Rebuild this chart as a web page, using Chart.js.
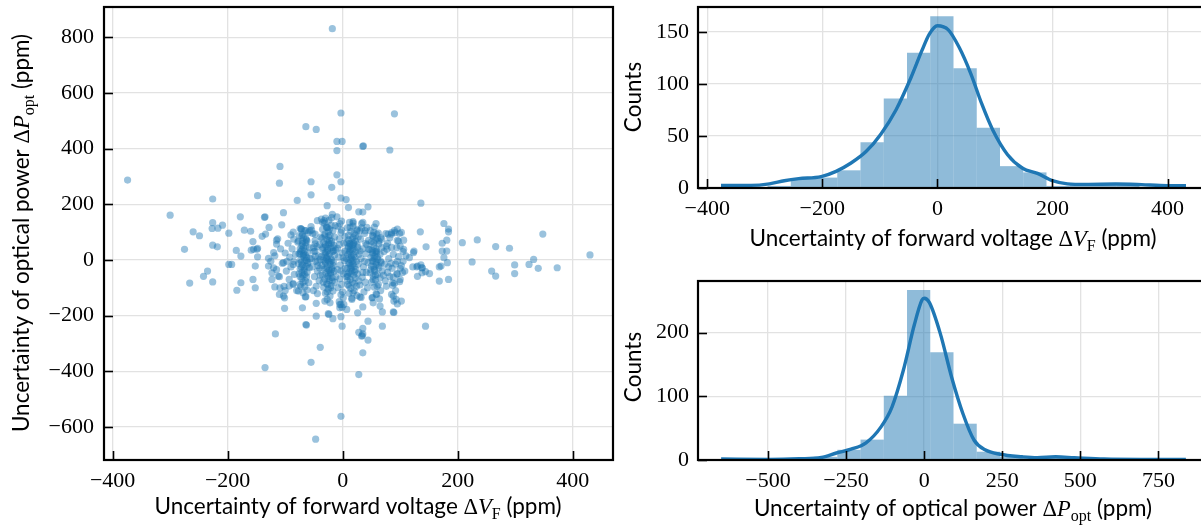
<!DOCTYPE html>
<html><head><meta charset="utf-8">
<script src="https://cdn.jsdelivr.net/npm/chart.js@4.4.1/dist/chart.umd.min.js"></script>
<style>
html,body{margin:0;padding:0;background:#fff;overflow:hidden;width:1201px;height:525px;position:relative;}
canvas{position:absolute;}
</style></head><body>
<canvas id="sc" width="625" height="525" style="left:0;top:0"></canvas>
<canvas id="h1" width="600" height="262" style="left:620px;top:0"></canvas>
<canvas id="h2" width="600" height="263" style="left:620px;top:262px"></canvas>
<script>
// ---------- DATA ----------
const scatterOuter = [[-18,831],[-3,528],[90,525],[-64,479],[-46,469],[-10,426],[-1,426],[35,408],[36,410],[82,395],[-10,393],[-109,336],[-10,306],[-374,287],[-110,276],[-55,281],[-3,281],[-19,261],[-55,234],[-148,231],[-226,219],[-79,214],[-3,222],[6,217],[136,204],[-27,195],[10,188],[44,191],[-300,161],[-178,155],[-136,153],[-135,155],[-103,170],[28,173],[35,172],[-226,134],[-209,125],[-260,101],[-249,87],[-275,38],[-266,-83],[-242,-59],[-235,-40],[-226,53],[-218,47],[-227,113],[-217,114],[-198,96],[-198,-16],[-193,-16],[-185,34],[-177,14],[-184,-109],[-177,-82],[-226,-79],[-171,107],[-160,103],[-156,66],[-155,38],[-148,42],[-152,-22],[-156,-70],[-152,-100],[-148,11],[-140,85],[-134,93],[-128,117],[-113,76],[-106,126],[-86,100],[-135,-387],[-117,-266],[-101,-174],[-93,-94],[-110,-124],[-101,-136],[-70,-172],[-64,-232],[-63,-234],[-46,-202],[-46,-156],[-44,-121],[-55,-368],[-39,-314],[-47,-644],[-3,-562],[28,-412],[35,-334],[44,-288],[35,-266],[35,-246],[28,-260],[44,-220],[69,-238],[69,-187],[88,-187],[89,-189],[102,-148],[93,-142],[144,-238],[-1,-238],[-3,-204],[-17,-211],[-24,-196],[26,-190],[35,-169],[53,-154],[-3,-160],[7,-178],[168,-76],[184,-70],[130,-59],[151,-49],[144,-42],[129,-25],[171,-22],[182,-10],[173,32],[181,32],[173,60],[181,71],[176,131],[184,111],[184,101],[208,62],[234,72],[225,-7],[266,48],[290,42],[259,-40],[266,-58],[299,-18],[299,-49],[324,-16],[332,2],[340,-30],[348,93],[373,-28],[430,18],[135,101],[145,47],[136,-18],[138,-28],[124,32],[116,8],[106,71],[95,111],[102,99],[85,93],[54,99],[58,131],[35,135],[18,138],[13,117],[30,105],[42,117],[-5,131],[-10,155],[-18,164],[-37,147],[-32,141],[-74,113],[-64,105],[-54,107],[-26,117],[-70,68]];

const scatterMid = [[-149,38],[-159,35],[-129,6],[-120,26],[-115,57],[-115,71],[-72,111],[-57,105],[-71,87],[-77,68],[-71,51],[-74,21],[-62,68],[-51,44],[-48,14],[-44,141],[-103,-10],[-120,-28],[-86,-16],[-129,-22],[-123,-46],[-123,-70],[-112,-58],[-118,-97],[-109,-100],[-103,-130],[-86,-88],[-77,-112],[-65,-133],[-19,152],[-35,135],[-28,117],[-13,123],[18,132],[33,131],[25,105],[39,105],[-2,107],[-48,93],[-31,87],[59,93],[68,75],[79,93],[91,98],[97,68],[77,38],[59,26],[45,38],[51,-4],[30,32],[19,62],[13,57],[4,32],[-48,32],[-34,44],[-25,62],[-16,32],[-39,2],[99,95],[85,98],[94,44],[106,38],[123,26],[176,8],[-25,-193],[33,-274],[34,-272],[-5,-172],[-31,-148],[-22,-154],[-5,-160],[1,-136],[16,-142],[30,-133],[51,-136],[59,-124],[65,-166],[85,-124],[89,-148],[95,-158],[87,-82],[99,-78],[87,-91],[138,-46],[122,-25],[130,-22],[138,-28],[168,-25],[92,-15],[100,-30],[95,-50],[88,-62],[104,-45]];

const scatterCore = [[-72,112],[-66,105],[-60,98],[-75,88],[-68,80],[-63,72],[-78,64],[-70,58],[-64,50],[-58,44],[-74,40],[-67,33],[-61,27],[-76,22],[-69,16],[-63,10],[-57,5],[-73,0],[-66,-4],[-60,-9],[-77,-13],[-70,-18],[-64,-23],[-58,-28],[-74,-33],[-67,-38],[-62,-44],[-76,-50],[-69,-55],[-63,-61],[-71,-68],[-65,-75],[-59,-82],[-74,-88],[-66,-96],[-62,-108],[-69,-118],[-64,-132],[-72,-8],[-68,20],[-65,62],[-71,-45],[-61,-15],[-67,8],[-73,30],
[-52,95],[-48,70],[-45,48],[-50,30],[-42,15],[-47,-5],[-53,-25],[-44,-40],[-49,-60],[-41,-75],[-46,-95],[-51,-110],[-40,55],[-55,120],[-43,-20],[-38,82],[-39,-55],[-54,5],
[-30,150],[-24,142],[-32,132],[-20,125],[-28,118],[-35,110],[-17,105],[-25,100],[-31,93],[-22,88],[-14,82],[-36,78],[-27,73],[-19,68],[-33,62],[-24,57],[-15,52],[-29,48],[-21,43],[-35,38],[-26,34],[-18,30],[-31,25],[-23,21],[-14,17],[-37,12],[-28,8],[-20,4],[-33,0],[-25,-4],[-16,-8],[-30,-12],[-22,-16],[-36,-20],[-27,-24],[-19,-28],[-32,-33],[-24,-37],[-15,-41],[-29,-46],[-21,-50],[-35,-55],[-26,-59],[-18,-64],[-31,-69],[-23,-74],[-14,-80],[-28,-86],[-20,-92],[-33,-98],[-25,-105],[-17,-112],[-30,-120],[-22,-130],[-27,-142],[-12,-60],[-12,35],[-34,-80],[-19,-2],[-26,14],[-24,-66],[-30,55],[-16,-20],
[-8,120],[-3,98],[-6,75],[2,60],[-9,42],[-1,25],[-7,10],[3,-3],[-4,-18],[-9,-35],[1,-50],[-5,-68],[-2,-88],[-8,-100],[0,-115],[-3,-125],[-6,-150],[2,-160],[-1,-170],[4,85],[-2,140],[4,-30],
[12,135],[18,122],[8,115],[25,110],[14,102],[20,95],[10,88],[27,82],[16,75],[22,68],[7,62],[19,56],[13,50],[26,45],[9,40],[17,35],[23,30],[11,25],[28,20],[15,15],[21,10],[6,5],[18,0],[24,-5],[10,-10],[27,-15],[14,-20],[20,-25],[8,-30],[23,-35],[16,-40],[11,-45],[26,-50],[19,-55],[7,-60],[22,-65],[13,-70],[28,-75],[17,-80],[9,-88],[24,-95],[14,-102],[20,-110],[11,-120],[25,-128],[16,-138],[12,60],[18,-15],[14,38],[21,-42],[10,72],[19,18],[8,-52],
[33,115],[38,95],[31,75],[42,55],[35,40],[40,22],[32,5],[44,-10],[36,-25],[41,-45],[34,-62],[39,-80],[43,-100],[37,-115],[32,-135],[45,70],[38,-5],[30,-90],
[55,118],[48,105],[62,96],[52,88],[66,80],[57,72],[50,65],[63,58],[54,50],[68,44],[47,38],[59,32],[52,26],[65,20],[56,14],[49,8],[61,2],[53,-4],[67,-10],[58,-16],[50,-22],[63,-28],[55,-34],[69,-40],[48,-46],[60,-52],[53,-58],[65,-64],[57,-72],[50,-80],[62,-88],[55,-98],[66,-110],[58,-122],[52,-135],[64,-140],[60,10],[54,-25],[58,40],
[75,95],[82,80],[90,105],[78,60],[95,70],[85,45],[100,50],[72,30],[88,20],[105,30],[80,5],[95,-5],[73,-15],[102,-20],[86,-30],[78,-45],[94,-50],[108,-40],[82,-60],[74,-75],[100,-70],[90,-85],[76,-95],[92,-110],[105,-5],[110,15],[84,-12],[97,12],[71,-55],[88,-130],
[-95,60],[-88,40],[-100,25],[-92,10],[-85,-5],[-105,-12],[-90,-25],[-98,-40],[-84,-52],[-110,-60],[-93,-70],[-86,-85],[-102,-95],[-82,20],[-108,40],[-118,15],[-125,-5],[-90,90],[-100,-110],[-80,-110],[-115,-35],[-97,-5],[-85,75]];

// extra points in the four dense vertical stripes (around -70, -25, 12, 55 ppm)
const scatterStripes = [[-68,45],[-72,-25],[-66,-52],[-70,92],[-63,-2],[-69,-80],[-65,18],[-74,-60],
[-26,40],[-22,-8],[-28,-30],[-20,60],[-24,-50],[-30,18],[-18,-75],[-25,85],[-21,-100],[-27,2],[-23,110],[-19,-35],
[12,30],[16,-5],[10,48],[14,-32],[18,80],[9,-60],[15,8],[20,-85],[12,-12],[17,52],
[54,62],[58,-8],[52,20],[56,-40],[60,78],[53,-70],[57,30],[62,-20],
[-71,35],[-67,-30],[-64,75],[-73,-95],[-29,28],[-21,-44],[-26,-88],[-17,44],[-31,-6],[-23,70],[-27,-115],
[9,18],[14,-48],[19,40],[11,-95],[22,88],[16,-25],[13,2],[8,-75],[25,55],[18,-118],
[51,35],[57,-55],[63,68],[55,5],[49,-35],[60,-95],[53,85],[66,-5],[-44,-8],[-48,58],[-40,-30],[35,-45],[40,60],[-3,-40],[-6,55],[1,8],[80,-25],[76,50]];

const scatterXTicks = [-400, -200, 0, 200, 400];
const scatterYTicks = [-600, -400, -200, 0, 200, 400, 600, 800];

const vfBinEdges = [-376, -335.6, -295.2, -254.8, -214.4, -174, -133.6, -93.2, -52.8, -12.4, 28, 68.4, 108.8, 149.2, 189.6, 230, 270.4, 310.8, 351.2, 391.6, 432];
const vfCounts   = [1, 1, 2, 9, 10, 17, 44, 86, 130, 165, 115, 58, 21, 15, 2, 4, 3, 4, 1, 1];
const vfKdeX = [-376, -324, -292, -266, -241, -202, -176, -150, -124, -98, -72, -46, -27, -14, 0, 19, 38, 58, 77, 96, 122, 148, 174, 200, 226, 258, 310, 355, 387, 432];
const vfKdeY = [2.5, 2.5, 4, 7, 9, 11, 16, 24, 35, 52, 75, 106, 132, 148, 156, 152, 135, 110, 81, 56, 32, 19, 14, 7, 4, 3.5, 3.8, 3.2, 2.5, 2.2];
const vfXTicks = [-400, -200, 0, 200, 400];
const vfYTicks = [0, 50, 100, 150];

const poBinEdges = [-650, -575.6, -501.2, -426.8, -352.4, -278, -203.6, -129.2, -54.8, 19.6, 94, 168.4, 242.8, 317.2, 391.6, 466, 540.4, 614.8, 689.2, 763.6, 838];
const poCounts   = [1, 1, 0, 3, 5, 16, 32, 101, 267, 169, 57, 13, 5, 3, 5, 3, 0, 0, 0, 1];
const poKdeX = [-650, -495, -400, -329, -281, -234, -186, -138, -103, -67, -31, -7, 0, 17, 52, 88, 124, 160, 195, 243, 314, 362, 421, 481, 576, 695, 838];
const poKdeY = [1.5, 1, 2, 4, 11, 17, 27, 52, 83, 140, 213, 251, 254, 247, 198, 130, 73, 31, 16, 9, 5, 3.6, 5, 3.6, 1.5, 1, 1];
const poXTicks = [-500, -250, 0, 250, 500, 750];
const poYTicks = [0, 100, 200];

// ---------- STYLE ----------
const SERIF = '"Liberation Serif", "DejaVu Serif", serif';
const SANS = 'Lato, "Liberation Sans", sans-serif';
const FS = 22.5;     // axis-label size
const TFS = 22;      // tick-label size
const BLUE = '#1f77b4';
const GRID = '#e2e2e2';

function fmt(v){ return v < 0 ? '\u2212' + Math.abs(v) : String(v); }

function drawMixed(ctx, parts, cx, cy, rot){
  ctx.save();
  ctx.translate(cx, cy); ctx.rotate(rot);
  const fonts = {sans: FS + 'px ' + SANS, serif: FS + 'px ' + SERIF, ital: 'italic ' + FS + 'px ' + SERIF, sub: Math.round(FS*0.72) + 'px ' + SERIF};
  let w = 0;
  const ws = parts.map(p => { ctx.font = fonts[p.f]; const m = ctx.measureText(p.t).width; w += m; return m; });
  let x = -w/2;
  ctx.fillStyle = '#000'; ctx.textBaseline = 'alphabetic'; ctx.textAlign = 'left';
  const base = FS*0.36;
  parts.forEach((p, i) => { ctx.font = fonts[p.f]; ctx.fillText(p.t, x, base + (p.f === 'sub' ? FS*0.2 : 0)); x += ws[i]; });
  ctx.restore();
}

const VF_LABEL = [{t:'Uncertainty of forward voltage ', f:'sans'}, {t:'\u0394', f:'serif'}, {t:'V', f:'ital'}, {t:'F', f:'sub'}, {t:' (ppm)', f:'sans'}];
const PO_LABEL = [{t:'Uncertainty of optical power ', f:'sans'}, {t:'\u0394', f:'serif'}, {t:'P', f:'ital'}, {t:'opt', f:'sub'}, {t:' (ppm)', f:'sans'}];
const COUNTS_LABEL = [{t:'Counts', f:'sans'}];

const framePlugin = {
  id: 'frame',
  afterDatasetsDraw(chart, args, opts){
    const ctx = chart.ctx, a = chart.chartArea;
    const xs = chart.scales.x, ys = chart.scales.y;
    ctx.save();
    ctx.strokeStyle = '#000'; ctx.lineWidth = 1.6;
    xs.ticks.forEach(t => { const p = Math.round(xs.getPixelForValue(t.value)) + 0.5; ctx.beginPath(); ctx.moveTo(p, a.bottom); ctx.lineTo(p, a.bottom - 9); ctx.stroke(); });
    ys.ticks.forEach(t => { const p = Math.round(ys.getPixelForValue(t.value)) + 0.5; ctx.beginPath(); ctx.moveTo(a.left, p); ctx.lineTo(a.left + 9, p); ctx.stroke(); });
    ctx.lineWidth = 2.2;
    ctx.strokeRect(a.left, a.top, a.right - a.left, a.bottom - a.top);
    (opts.labels || []).forEach(l => drawMixed(ctx, l.parts, l.x, l.y, l.rot || 0));
    ctx.restore();
  }
};

function axis(min, max, tickVals, fitKey, fitVal, pad){
  return {
    type: 'linear', min: min, max: max, offset: false,
    afterBuildTicks: s => { s.ticks = tickVals.map(v => ({value: v})); },
    afterFit: s => { s[fitKey] = fitVal; s.paddingTop = 0; s.paddingBottom = 0; s.paddingLeft = 0; s.paddingRight = 0; },
    grid: {color: GRID, lineWidth: 1.3, drawTicks: false, offset: false},
    border: {display: false},
    ticks: {padding: pad, color: '#000', font: {family: SERIF, size: TFS}, callback: v => fmt(v), maxRotation: 0, autoSkip: false}
  };
}

Chart.defaults.animation = false;
Chart.defaults.plugins.legend.display = false;
Chart.defaults.plugins.tooltip.enabled = false;

const allPoints = scatterOuter.concat(scatterMid, scatterCore, scatterStripes).map(p => ({x: p[0], y: p[1]}));

new Chart(document.getElementById('sc'), {
  type: 'scatter',
  data: {datasets: [{data: allPoints, pointRadius: 3.6, pointBackgroundColor: 'rgba(31,119,180,0.45)', pointBorderWidth: 0, pointBorderColor: 'rgba(0,0,0,0)'}]},
  options: {
    responsive: false, devicePixelRatio: 1,
    layout: {padding: {left: 0, top: 7, right: 12, bottom: 0}},
    scales: {
      x: axis(-415, 470, scatterXTicks, 'height', 65, 8),
      y: axis(-719, 909, scatterYTicks, 'width', 104, 10)
    },
    plugins: {frame: {labels: [
      {parts: VF_LABEL, x: 358, y: 506, rot: 0},
      {parts: PO_LABEL, x: 21, y: 233, rot: -Math.PI/2}
    ]}}
  },
  plugins: [framePlugin]
});

function centers(edges){ const c = []; for (let i = 0; i < edges.length - 1; i++) c.push((edges[i] + edges[i+1]) / 2); return c; }

function histChart(id, edges, counts, kx, ky, xmin, xmax, ymax, xt, yt, top, axisH, labels){
  const cs = centers(edges);
  new Chart(document.getElementById(id), {
    type: 'bar',
    data: {datasets: [
      {type: 'line', data: kx.map((x, i) => ({x: x, y: ky[i]})), borderColor: BLUE, borderWidth: 3.4, pointRadius: 0, cubicInterpolationMode: 'monotone', fill: false, order: 0},
      {type: 'bar', data: cs.map((x, i) => ({x: x, y: counts[i]})), backgroundColor: 'rgba(31,119,180,0.5)', borderWidth: 0, inflateAmount: 0, barPercentage: 1, categoryPercentage: 1, order: 1}
    ]},
    options: {
      responsive: false, devicePixelRatio: 1,
      layout: {padding: {left: 0, top: top, right: 11, bottom: 0}},
      scales: {
        x: axis(xmin, xmax, xt, 'height', axisH, 8),
        y: axis(0, ymax, yt, 'width', 78, 9)
      },
      plugins: {frame: {labels: labels}}
    },
    plugins: [framePlugin]
  });
}

histChart('h1', vfBinEdges, vfCounts, vfKdeX, vfKdeY, -416, 472, 174, vfXTicks, vfYTicks, 7, 74, [
  {parts: VF_LABEL, x: 333, y: 238, rot: 0},
  {parts: COUNTS_LABEL, x: 13, y: 97, rot: -Math.PI/2}
]);
histChart('h2', poBinEdges, poCounts, poKdeX, poKdeY, -724, 912, 281, poXTicks, poYTicks, 19, 65, [
  {parts: PO_LABEL, x: 333, y: 246, rot: 0},
  {parts: COUNTS_LABEL, x: 13, y: 105, rot: -Math.PI/2}
]);
</script>
</body></html>
